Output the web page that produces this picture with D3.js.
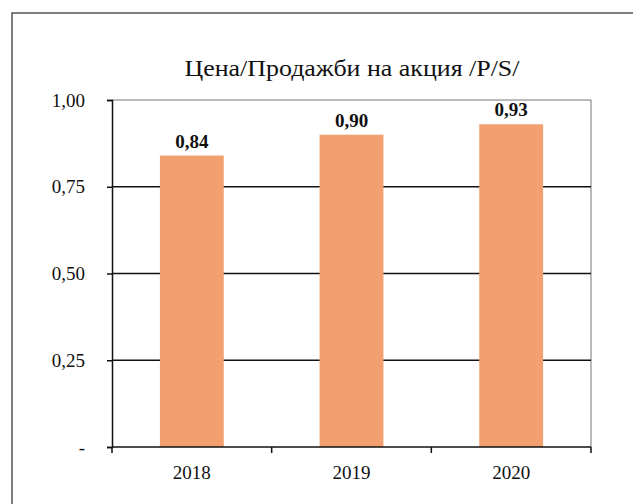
<!DOCTYPE html>
<html>
<head>
<meta charset="utf-8">
<script src="https://cdn.jsdelivr.net/npm/d3@7"></script>
<style>
  body { margin: 0; background: #fff; }
</style>
</head>
<body>
<script>
const years = ['2018', '2019', '2020']
const psValues = [0.84, 0.90, 0.93]
const yTicks = [0, 0.25, 0.5, 0.75, 1]
const title = 'Цена/Продажби на акция /P/S/'

const width = 633
const height = 504
const margin = { top: 100, right: 42, bottom: 57, left: 112 }
const serif = '"Liberation Serif", "Times New Roman", "DejaVu Serif", serif'

const fmt = v => v === 0 ? '-' : d3.format('.2f')(v).replace('.', ',')

const svg = d3.select('body').append('svg')
  .attr('width', width).attr('height', height)
  .attr('font-family', serif)

// outer chart frame (only top and left visible in the scan)
svg.append('path')
  .attr('d', `M12,${height}V13H${width}`)
  .attr('fill', 'none').attr('stroke', '#555').attr('stroke-width', 1.5)

svg.append('text')
  .attr('x', 352).attr('y', 76)
  .attr('text-anchor', 'middle')
  .attr('font-size', 23)
  .attr('fill', '#111')
  .attr('textLength', 335)
  .attr('lengthAdjust', 'spacingAndGlyphs')
  .text(title)

const x = d3.scaleBand()
  .domain(years)
  .range([margin.left, width - margin.right])
  .paddingInner(0.6)
  .paddingOuter(0.3)

const y = d3.scaleLinear()
  .domain([0, 1])
  .range([height - margin.bottom, margin.top])

const g = svg.append('g')

// plot border (top, right)
g.append('path')
  .attr('d', `M${margin.left},${y(1)}H${width - margin.right}V${y(0)}`)
  .attr('fill', 'none').attr('stroke', '#777').attr('stroke-width', 1)

// gridlines
g.selectAll('.grid').data(yTicks.filter(t => t > 0 && t < 1)).join('line')
  .attr('x1', margin.left).attr('x2', width - margin.right)
  .attr('y1', d => y(d)).attr('y2', d => y(d))
  .attr('stroke', '#111').attr('stroke-width', 1.5)

// bars
g.selectAll('.bar').data(psValues).join('rect')
  .attr('x', (d, i) => x(years[i]))
  .attr('y', d => y(d))
  .attr('width', x.bandwidth())
  .attr('height', d => y(0) - y(d))
  .attr('fill', '#F3A070')

// value labels
g.selectAll('.lbl').data(psValues).join('text')
  .attr('x', (d, i) => x(years[i]) + x.bandwidth() / 2)
  .attr('y', d => y(d) - 8)
  .attr('text-anchor', 'middle')
  .attr('font-size', 19)
  .attr('font-weight', 'bold')
  .attr('fill', '#111')
  .text(d => fmt(d))

// y axis
const yAxis = g.append('g')
  .attr('transform', `translate(${margin.left},0)`)
  .call(d3.axisLeft(y).tickValues(yTicks).tickFormat(fmt).tickSize(5).tickPadding(22))
  .attr('font-family', serif)
yAxis.select('.domain').attr('stroke', '#111').attr('stroke-width', 1.5)
yAxis.selectAll('.tick line').attr('stroke', '#111').attr('stroke-width', 1.5)
yAxis.selectAll('.tick text').attr('font-size', 19).attr('fill', '#111')

// x axis with ticks at category boundaries
const step = x.step()
const bounds = d3.range(years.length + 1).map(i => margin.left + i * step)
const xg = g.append('g')
xg.append('line')
  .attr('x1', margin.left).attr('x2', width - margin.right)
  .attr('y1', y(0)).attr('y2', y(0))
  .attr('stroke', '#111').attr('stroke-width', 1.5)
xg.selectAll('.xt').data(bounds).join('line')
  .attr('x1', d => d).attr('x2', d => d)
  .attr('y1', y(0)).attr('y2', y(0) + 6)
  .attr('stroke', '#111').attr('stroke-width', 1.5)
xg.selectAll('.xl').data(years).join('text')
  .attr('x', d => x(d) + x.bandwidth() / 2)
  .attr('y', y(0) + 32)
  .attr('text-anchor', 'middle')
  .attr('font-size', 19)
  .attr('fill', '#111')
  .text(d => d)
</script>
</body>
</html>
